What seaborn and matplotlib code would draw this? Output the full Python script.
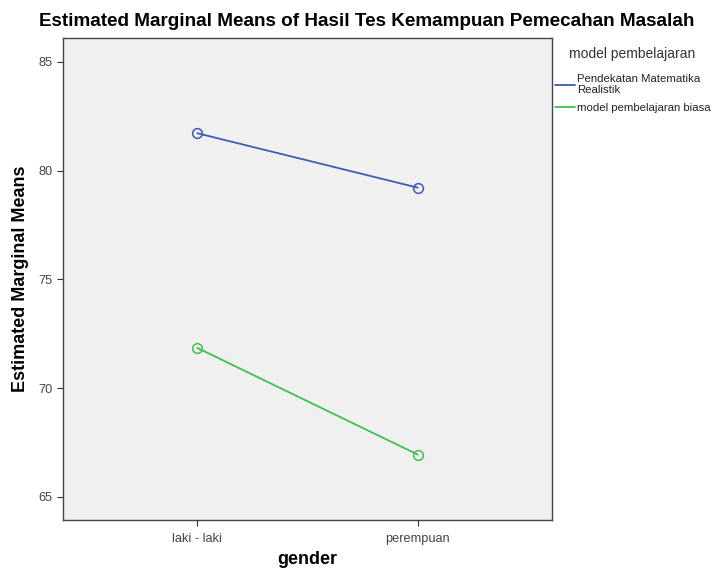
import numpy as np
import pandas as pd
import seaborn as sns
import matplotlib.pyplot as plt

gender = ["laki - laki", "perempuan"]
model = ["Pendekatan Matematika\nRealistik", "model pembelajaran biasa"]
means_pmr = [81.72, 79.22]
means_biasa = [71.85, 66.95]
colors = ["#3f5bb5", "#3fc150"]

df = pd.DataFrame({
    "gender": gender * 2,
    "model": [model[0]] * 2 + [model[1]] * 2,
    "mean": means_pmr + means_biasa,
})

sns.set_style("white")
plt.rcParams["font.family"] = ["Liberation Sans", "DejaVu Sans"]

fig = plt.figure(figsize=(7.26, 5.72), dpi=100)
ax = fig.add_axes([0.0868, 0.0909, 0.6735, 0.8427])
ax.set_facecolor("#f0f0f0")

sns.lineplot(data=df, x="gender", y="mean", hue="model", palette=colors,
             marker="o", markersize=7, markerfacecolor="none",
             linewidth=1.3, ax=ax)
for ln in ax.lines:
    ln.set_markeredgecolor(ln.get_color())
    ln.set_markeredgewidth(1.1)

ax.set_xlim(-0.61, 1.61)
ax.set_ylim(63.94, 86.1)
ax.set_yticks([65, 70, 75, 80, 85])
ax.tick_params(axis="both", length=4, width=0.8, color="#333333",
               labelsize=9.2, labelcolor="#444444", left=True, bottom=True)
ax.tick_params(axis="x", pad=5)
for s in ax.spines.values():
    s.set_color("#444444")
    s.set_linewidth(1)

ax.set_xlabel("gender", fontsize=13, fontweight="bold", labelpad=5, color="black")
ax.set_ylabel("Estimated Marginal Means", fontsize=13, fontweight="bold",
              labelpad=7, color="black")
fig.suptitle("Estimated Marginal Means of Hasil Tes Kemampuan Pemecahan Masalah",
             fontsize=13.6, fontweight="bold", x=0.505, y=0.978, color="black")

handles, labels = ax.get_legend_handles_labels()
for h in handles:
    h.set_marker("")
leg = ax.legend(handles, labels, loc="upper left",
                bbox_to_anchor=(0.997, 0.935), borderaxespad=0, frameon=False,
                fontsize=8.2, handlelength=1.75,
                handletextpad=0.2, labelspacing=0.65)
for t in leg.get_texts():
    t.set_color("#222222")
fig.text(569 / 726, 1 - 54 / 572, "model pembelajaran", fontsize=10,
         color="#333333", va="center", ha="left")

fig.savefig("out.png", dpi=100)
